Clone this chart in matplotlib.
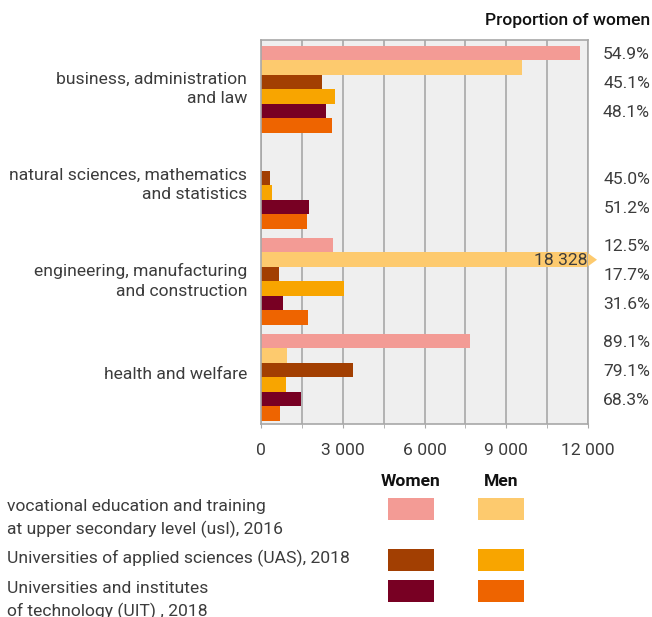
import numpy as np
import matplotlib.pyplot as plt
import matplotlib.transforms as mtransforms
from matplotlib.patches import Rectangle, Polygon

plt.rcParams['font.family'] = ['Roboto', 'DejaVu Sans']

# data
fields = ["business, administration\nand law",
          "natural sciences, mathematics\nand statistics",
          "engineering, manufacturing\nand construction",
          "health and welfare"]
usl_women = [11720, 0, 2640, 7670]
usl_men = [9590, 0, 18328, 945]
uas_women = [2230, 320, 650, 3370]
uas_men = [2710, 395, 3040, 910]
uit_women = [2380, 1755, 800, 1460]
uit_men = [2600, 1680, 1715, 690]
share_usl = ["54.9%", "", "12.5%", "89.1%"]
share_uas = ["45.1%", "45.0%", "17.7%", "79.1%"]
share_uit = ["48.1%", "51.2%", "31.6%", "68.3%"]
x_ticks = [0, 3000, 6000, 9000, 12000]
x_tick_labels = ["0", "3 000", "6 000", "9 000", "12 000"]
legend_labels = ["vocational education and training\nat upper secondary level (usl), 2016",
                 "Universities of applied sciences (UAS), 2018",
                 "Universities and institutes\nof technology (UIT) , 2018"]

colors = ["#F39B95", "#FDCA6E", "#A23F02", "#F8A500", "#780023", "#EE6400"]
series = [usl_women, usl_men, uas_women, uas_men, uit_women, uit_men]
shares = [share_usl, share_uas, share_uit]
txt = "#3c3c3c"
grid_c = "#a8a8a8"
fs = 12.6

W, H = 652, 617
fig = plt.figure(figsize=(W / 100, H / 100), dpi=100)
ax = fig.add_axes([261 / W, 1 - 424 / H, 327 / W, 384 / H])
ax.set_facecolor("#efefef")

h = 0.151
xmax = 12000
for i, vals in enumerate(series):
    ys = [g + (i + 0.5) * h for g in range(len(fields))]
    ax.barh(ys, vals, height=h, color=colors[i], linewidth=0, zorder=2)

# clipped bar: arrow + value label
for g, v in enumerate(usl_men):
    if v > xmax:
        y = g + 1.5 * h
        dx = 9 * xmax / 327
        arrow = Polygon([[xmax, y - h * 0.45], [xmax + dx, y], [xmax, y + h * 0.45]],
                        closed=True, color=colors[1], clip_on=False, zorder=3, linewidth=0)
        ax.add_patch(arrow)
        ax.text(xmax - 30, y + 0.01, f"{v:,}".replace(",", " "), ha="right", va="center",
                fontsize=fs, color=txt, zorder=4)

ax.set_xlim(0, xmax)
ax.set_ylim(3.9375, -0.0625)
ax.set_xticks(x_ticks)
ax.set_xticklabels(x_tick_labels, fontsize=fs, color=txt)
ax.set_xticks(np.arange(1500, xmax, 3000), minor=True)
ax.tick_params(axis="x", which="both", length=3, color=grid_c, pad=11)
ax.set_yticks([g + 3 * h - 0.045 for g in range(len(fields))])
ax.set_yticklabels(fields, fontsize=fs, color=txt, linespacing=1.4)
ax.tick_params(axis="y", length=0, pad=10)
ax.grid(axis="x", which="both", color=grid_c, linewidth=1.2, zorder=1)
ax.set_axisbelow(True)
for s in ax.spines.values():
    s.set_color(grid_c)
    s.set_linewidth(1.2)

# proportion of women
trans = mtransforms.blended_transform_factory(fig.transFigure, ax.transData)
for k, sh in enumerate(shares):
    for g, label in enumerate(sh):
        if label:
            ax.text(650 / W, g + (2 * k + 0.5) * h + 0.01, label, transform=trans,
                    ha="right", va="center", fontsize=fs, color=txt)
fig.text(650 / W, 1 - 20 / H, "Proportion of women", ha="right", va="center",
         fontsize=fs, fontweight="medium", color="#111111")

# legend
fig.text(411 / W, 1 - 482 / H, "Women", ha="center", va="center", fontsize=fs,
         fontweight="bold", color="#111111")
fig.text(501 / W, 1 - 482 / H, "Men", ha="center", va="center", fontsize=fs,
         fontweight="bold", color="#111111")
rows_y = [498, 549, 580]
text_y = [518.5, 558, 600.5]
for r in range(3):
    for j, x0 in enumerate([388, 478]):
        fig.add_artist(Rectangle((x0 / W, 1 - (rows_y[r] + 22) / H), 46 / W, 22 / H,
                                 transform=fig.transFigure, color=colors[2 * r + j], linewidth=0))
    fig.text(7 / W, 1 - text_y[r] / H, legend_labels[r], ha="left", va="center",
             fontsize=fs, color=txt, linespacing=1.45)

fig.savefig("out.png", dpi=100)
